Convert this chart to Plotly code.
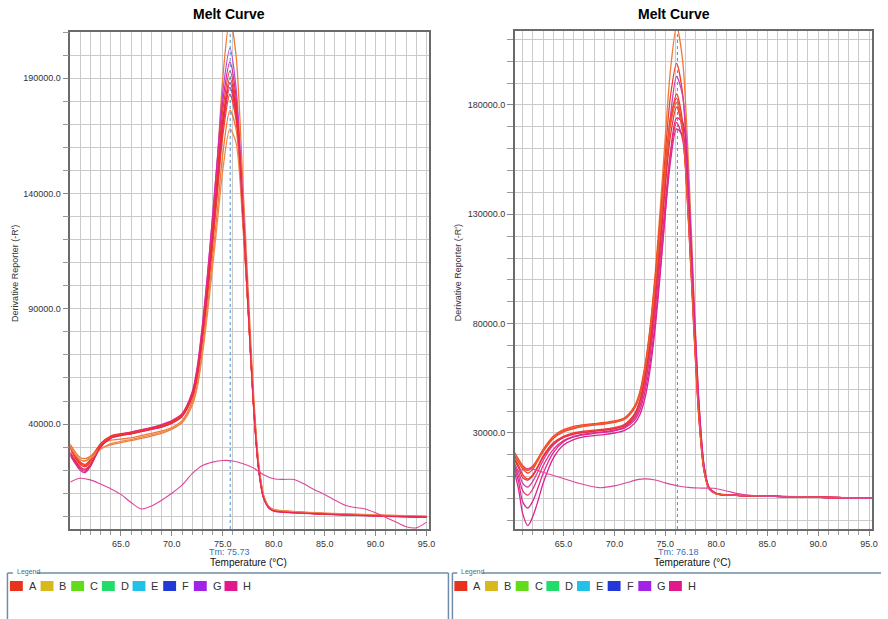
import plotly.graph_objects as go

W, H = 888, 619
FONT = "Liberation Sans, Arial, sans-serif"

# ---------------- data: left plate ----------------
TL = [60, 60.5, 61, 61.5, 62, 62.5, 63, 64, 65, 66, 67, 68, 69, 70, 71, 72, 72.5, 73, 73.5, 74,
      74.5, 75, 75.7, 76.3, 77, 77.5, 78, 78.5, 79, 79.5, 80, 82, 85, 88, 91, 95]

L1 = [31000, 27000, 24500, 24000, 25500, 28500, 31000, 33000, 33500, 34000, 35000, 36000, 37000, 38500, 41500, 50000, 60000, 78000, 100000, 126000,
      156000, 190000, 216000, 200000, 142000, 98000, 55000, 24000, 9000, 4200, 2800, 1900, 1200, 700, 300, -100]
L2 = [27000, 23500, 20500, 19500, 22000, 26500, 30500, 34500, 35500, 36500, 37500, 38500, 39500, 41000, 44000, 53000, 64000, 82000, 104000, 130000,
      157000, 184000, 203000, 186000, 134000, 92000, 50000, 21000, 8000, 3800, 2400, 1600, 1000, 500, 100, -300]
L3 = [26500, 23000, 20000, 19000, 21500, 26000, 30000, 34000, 35500, 36500, 37500, 38500, 39800, 41500, 44500, 54000, 65000, 83000, 105000, 130000,
      156000, 180000, 197000, 182000, 131000, 90000, 49000, 21000, 8000, 3700, 2300, 1500, 900, 400, 0, -400]
L4 = [29500, 25500, 22500, 21500, 23500, 27500, 31000, 34500, 35500, 36000, 37000, 38000, 39000, 40800, 43800, 52500, 62000, 79000, 100000, 124000,
      150000, 176000, 193000, 179000, 130000, 90000, 50000, 22000, 8500, 4000, 2600, 1800, 1100, 600, 200, -200]
L5 = [30500, 26500, 23500, 22500, 24500, 28000, 31500, 34800, 35800, 36300, 37200, 38200, 39300, 41200, 44200, 53000, 62500, 79000, 99000, 122000,
      147000, 172000, 190000, 177000, 130000, 91000, 51000, 23000, 9000, 4200, 2800, 1900, 1200, 700, 300, -100]
L6 = [28000, 24500, 21500, 20500, 22500, 26500, 30500, 34000, 35200, 35800, 36800, 37800, 38800, 40500, 43500, 52000, 61000, 77000, 97000, 120000,
      144000, 168000, 186000, 174000, 128000, 89000, 49000, 21500, 8300, 3900, 2500, 1700, 1000, 500, 100, -300]
L7 = [30000, 26000, 23000, 22000, 24000, 27800, 31200, 34300, 35300, 35900, 36900, 37900, 38900, 40600, 43400, 51500, 60500, 76000, 95000, 117000,
      141000, 165000, 183000, 172000, 127000, 89000, 50000, 22500, 8700, 4100, 2700, 1800, 1100, 600, 200, -200]
L8 = [31500, 28000, 25500, 25000, 26000, 28000, 29500, 31000, 32000, 32800, 33800, 34800, 36000, 37800, 40500, 48500, 57000, 72000, 91000, 112000,
      134000, 157000, 176000, 168000, 127000, 90000, 51000, 23000, 9000, 4300, 2900, 2000, 1300, 800, 400, 0]
L9 = [30500, 27000, 24500, 24000, 25000, 27000, 29000, 31500, 32500, 33300, 34300, 35300, 36500, 38300, 41000, 48000, 56000, 70000, 88000, 108000,
      129000, 150000, 168000, 162000, 124000, 89000, 51000, 23500, 9300, 4400, 3000, 2100, 1400, 900, 500, 100]
L10 = [27500, 24000, 21000, 20000, 22000, 26000, 30000, 33800, 35000, 35700, 36700, 37700, 38700, 40300, 43200, 52000, 61500, 78000, 98000, 121000,
       146000, 170000, 188000, 175000, 128000, 89000, 49500, 21500, 8200, 3800, 2400, 1600, 1000, 500, 100, -300]
LEFT_CURVES = [L1, L2, L3, L4, L5, L6, L7, L8, L9, L10]
LEFT_COLORS = ["#f07a3a", "#b650d8", "#e0289a", "#f03a2a", "#ee3030", "#e83068",
               "#f04428", "#f07838", "#f08a4c", "#e82850"]

TN_L = [60, 61, 62, 63, 64, 65, 66, 67, 68, 69, 70, 71, 72, 73, 74, 75, 76, 77, 78, 79,
        80, 81, 82, 83, 84, 85, 86, 87, 88, 89, 90, 91, 92, 93, 94, 95]
NTC_L = [14800, 16500, 15800, 14000, 12000, 9500, 6000, 3200, 4500, 7000, 10000, 13500, 18500, 22000, 23500, 24200, 24000, 22800, 21000, 18000,
         16300, 16000, 16000, 14000, 11500, 9500, 7000, 4800, 3800, 3200, 1500, -500, -2500, -4500, -5000, -2500]
TM_L = 75.73

# ---------------- data: right plate ----------------
TR = [60.2, 60.6, 61, 61.5, 62, 62.5, 63, 64, 65, 66, 67, 68, 69, 70, 71, 72, 72.5, 73, 73.5, 74,
      74.5, 75, 75.5, 76.1, 76.7, 77.3, 77.8, 78.3, 78.8, 79.3, 80, 82, 85, 88, 91, 95.3]

R1 = [20000, 17000, 14500, 13000, 14500, 18000, 22000, 28000, 31000, 32500, 33500, 34000, 34500, 35200, 36800, 42000, 48000, 60000, 78000, 103000,
      133000, 166000, 196000, 216000, 200000, 150000, 93000, 44000, 15000, 5000, 2400, 1600, 1200, 900, 600, 300]
R2 = [19500, 16500, 13500, 11700, 13500, 17500, 21500, 27500, 30500, 32000, 33000, 33600, 34100, 34800, 36300, 41500, 47500, 59000, 76000, 100000,
      128000, 158000, 184000, 199000, 185000, 138000, 86000, 41000, 14000, 4800, 2300, 1500, 1100, 800, 500, 200]
R3 = [16000, 12000, 7000, 5300, 8000, 12500, 17500, 24500, 28000, 29500, 30300, 30800, 31300, 32000, 33300, 37500, 42500, 52000, 67000, 88000,
      115000, 146000, 175000, 193000, 184000, 142000, 90000, 43000, 14500, 4800, 2300, 1500, 1100, 800, 500, 200]
R4 = [18000, 15000, 11000, 9000, 11000, 15000, 19500, 25500, 28500, 30000, 30800, 31300, 31800, 32500, 34000, 39000, 45000, 56000, 72000, 94000,
      120000, 148000, 172000, 185000, 172000, 128000, 80000, 38000, 13000, 4500, 2200, 1500, 1100, 800, 500, 200]
R5 = [21000, 18000, 15000, 13500, 15000, 18500, 22500, 28500, 31500, 33000, 33800, 34300, 34800, 35500, 37000, 42500, 49000, 61000, 78000, 101000,
      127000, 153000, 174000, 183000, 168000, 124000, 77000, 36000, 12500, 4400, 2200, 1500, 1100, 800, 500, 200]
R6 = [17500, 14000, 9500, 8500, 10500, 14500, 19000, 25000, 28000, 29500, 30300, 30800, 31300, 32000, 33500, 38500, 44500, 55000, 70000, 91000,
      116000, 143000, 166000, 179000, 168000, 126000, 79000, 37500, 12800, 4500, 2200, 1500, 1100, 800, 500, 200]
R7 = [12000, 4000, -7000, -12400, -8000, -1000, 7000, 18500, 24500, 27000, 28200, 28800, 29300, 30000, 31200, 34500, 38500, 46000, 59000, 78000,
      103000, 131000, 158000, 174000, 172000, 136000, 88000, 43000, 15000, 5000, 2400, 1600, 1200, 800, 500, 200]
R8 = [15000, 10000, 3500, 1600, 4500, 9500, 15000, 22500, 26500, 28500, 29500, 30100, 30600, 31300, 32700, 37000, 42500, 52000, 66000, 86000,
      110000, 136000, 158000, 172000, 164000, 126000, 80000, 38000, 13000, 4500, 2200, 1500, 1100, 800, 500, 200]
R9 = [14000, 7500, -1500, -4300, -1000, 5000, 11500, 21000, 26000, 28200, 29200, 29800, 30300, 31000, 32300, 36000, 40500, 49000, 62000, 81000,
      105000, 131000, 154000, 169000, 166000, 130000, 84000, 40000, 14000, 4700, 2300, 1500, 1100, 800, 500, 200]
R10 = [19000, 16500, 14000, 12800, 14200, 17800, 21800, 27800, 30800, 32300, 33200, 33800, 34300, 35000, 36500, 41800, 48000, 59500, 76000, 98000,
       124000, 150000, 171000, 181000, 167000, 124000, 77000, 36500, 12500, 4400, 2200, 1500, 1100, 800, 500, 200]
RIGHT_CURVES = [R1, R2, R3, R4, R5, R6, R7, R8, R9, R10]
RIGHT_COLORS = ["#f07a3a", "#f03c2c", "#c844b4", "#ee3a30", "#f04a28", "#e83038",
                "#e02090", "#e83070", "#d82898", "#f05a30"]

TN_R = [60.2, 61, 61.7, 62.5, 63.6, 65, 66.5, 68.5, 70, 71, 72.4, 73, 74, 75, 76.3, 77.5, 78.5, 79.8, 81, 82,
        83.1, 85, 88, 91, 95.3]
NTC_R = [12000, 13200, 13800, 12800, 11100, 9200, 7000, 5000, 5800, 7000, 8800, 9000, 8500, 7200, 5750, 5000, 4800, 4700, 3500, 2400,
         1650, 1100, 700, 400, 100]
TM_R = 76.18

NTC_COLOR = "#e0449a"

LEGEND_LABELS = ["A", "B", "C", "D", "E", "F", "G", "H"]
LEGEND_COLORS = ["#e8321c", "#d8b81c", "#62dc1a", "#22dc6a", "#22c2e8", "#2238d8", "#a222e8", "#e01a8a"]


def px(x):
    return x / W


def py(y):
    return 1 - y / H


fig = go.Figure()

for ys, col in zip(LEFT_CURVES, LEFT_COLORS):
    fig.add_trace(go.Scatter(x=TL, y=ys, mode="lines", xaxis="x", yaxis="y",
                             line=dict(color=col, width=1.3, shape="spline", smoothing=0.8),
                             showlegend=False, hoverinfo="skip"))
fig.add_trace(go.Scatter(x=TN_L, y=NTC_L, mode="lines", xaxis="x", yaxis="y",
                         line=dict(color=NTC_COLOR, width=1.1, shape="spline", smoothing=0.8),
                         showlegend=False, hoverinfo="skip"))

for ys, col in zip(RIGHT_CURVES, RIGHT_COLORS):
    fig.add_trace(go.Scatter(x=TR, y=ys, mode="lines", xaxis="x2", yaxis="y2",
                             line=dict(color=col, width=1.3, shape="spline", smoothing=0.8),
                             showlegend=False, hoverinfo="skip"))
fig.add_trace(go.Scatter(x=TN_R, y=NTC_R, mode="lines", xaxis="x2", yaxis="y2",
                         line=dict(color=NTC_COLOR, width=1.1, shape="spline", smoothing=0.8),
                         showlegend=False, hoverinfo="skip"))

GRID = "#cacaca"
AX = "#6a6a6a"
TICKF = dict(family=FONT, size=9, color="#333333")


def xaxis(dom, rng, anchor):
    return dict(domain=dom, range=rng, anchor=anchor, tick0=65, dtick=5, tickformat=".1f",
                showgrid=True, gridcolor=GRID, gridwidth=1, ticks="outside", ticklen=5,
                tickcolor="#888888", tickfont=TICKF, showline=True, linecolor=AX, linewidth=1.5,
                mirror=True, zeroline=False, fixedrange=True,
                minor=dict(dtick=1, tick0=60, showgrid=True, gridcolor=GRID, gridwidth=1,
                           ticks="outside", ticklen=4, tickcolor="#999999"))


def yaxis(dom, rng, anchor, t0):
    return dict(domain=dom, range=rng, anchor=anchor, tick0=t0, dtick=50000, tickformat=".1f",
                showgrid=True, gridcolor=GRID, gridwidth=1, ticks="outside", ticklen=6,
                tickcolor="#888888", tickfont=TICKF, showline=True, linecolor=AX, linewidth=1.5,
                mirror=True, zeroline=False, fixedrange=True, separatethousands=False,
                minor=dict(dtick=10000, tick0=0, showgrid=True, gridcolor=GRID, gridwidth=1,
                           ticks="outside", ticklen=6, tickcolor="#999999"))


shapes = [
    dict(type="line", xref="x", yref="y domain", x0=TM_L, x1=TM_L, y0=0, y1=1,
         line=dict(color="#4a8ed0", width=1, dash="dot")),
    dict(type="line", xref="x2", yref="y2 domain", x0=TM_R, x1=TM_R, y0=0, y1=1,
         line=dict(color="#4a8ed0", width=1, dash="dot")),
]

LEG_LINE = "#6f8ca8"
# legend frames
for (xl, xr, tx0, tx1) in [(7.5, 452, 13, 37), (456, 888, 461, 486)]:
    shapes.append(dict(type="line", xref="paper", yref="paper", x0=px(xl), x1=px(tx0),
                       y0=py(573), y1=py(573), line=dict(color=LEG_LINE, width=1.5)))
    shapes.append(dict(type="line", xref="paper", yref="paper", x0=px(tx1), x1=px(xr),
                       y0=py(573), y1=py(573), line=dict(color=LEG_LINE, width=1.5)))
    shapes.append(dict(type="line", xref="paper", yref="paper", x0=px(xl), x1=px(xl),
                       y0=py(573), y1=py(619), line=dict(color=LEG_LINE, width=1.5)))
    if xr < 880:
        shapes.append(dict(type="line", xref="paper", yref="paper", x0=px(xr), x1=px(xr),
                           y0=py(573), y1=py(619), line=dict(color=LEG_LINE, width=1.5)))

annotations = []
for base in (10, 458):
    for i, (lab, col) in enumerate(zip(LEGEND_LABELS, LEGEND_COLORS)):
        x0 = base + i * 30.9
        shapes.append(dict(type="rect", xref="paper", yref="paper", x0=px(x0), x1=px(x0 + 13),
                           y0=py(591), y1=py(581), fillcolor=col, line=dict(width=0)))
        annotations.append(dict(xref="paper", yref="paper", x=px(x0 + 17), y=py(586), text=lab,
                                showarrow=False, xanchor="left", yanchor="middle",
                                font=dict(family=FONT, size=11, color="#333333")))
    annotations.append(dict(xref="paper", yref="paper", x=px(base + 5), y=py(572), text="Legend",
                            showarrow=False, xanchor="left", yanchor="middle",
                            font=dict(family=FONT, size=7, color="#4a6a8a")))

for cx, cy_title, ytx, xt_cx, tm_cx, tm in [(231, 14, 15, 250, 231, TM_L), (679, 14, 462, 698, 684, TM_R)]:
    annotations.append(dict(xref="paper", yref="paper", x=px(cx), y=py(cy_title), text="<b>Melt Curve</b>",
                            showarrow=False, xanchor="center", yanchor="middle",
                            font=dict(family=FONT, size=14, color="#000000")))
    annotations.append(dict(xref="paper", yref="paper", x=px(ytx), y=py(273),
                            text="Derivative Reporter (-R')", textangle=-90,
                            showarrow=False, xanchor="center", yanchor="middle",
                            font=dict(family=FONT, size=9, color="#333333")))
    annotations.append(dict(xref="paper", yref="paper", x=px(xt_cx), y=py(562), text="Temperature (°C)",
                            showarrow=False, xanchor="center", yanchor="middle",
                            font=dict(family=FONT, size=10, color="#111111")))
    annotations.append(dict(xref="paper", yref="paper", x=px(tm_cx), y=py(552), text="Tm: %.2f" % tm,
                            showarrow=False, xanchor="center", yanchor="middle",
                            font=dict(family=FONT, size=9, color="#3a70b8")))

fig.update_layout(
    width=W, height=H, margin=dict(l=0, r=0, t=0, b=0),
    paper_bgcolor="white", plot_bgcolor="white",
    xaxis=xaxis([px(71), px(432)], [60.05, 95.2], "y"),
    yaxis=yaxis([py(529), py(32)], [-5500, 210000], "x", 40000),
    xaxis2=xaxis([px(519), px(879)], [60.23, 95.29], "y2"),
    yaxis2=yaxis([py(529), py(31)], [-13900, 213800], "x2", 30000),
    shapes=shapes, annotations=annotations, showlegend=False,
    font=dict(family=FONT),
)

fig.write_html("out.html", config={"displayModeBar": False},
               post_script="document.body.style.margin='0';document.body.style.overflow='hidden';")
